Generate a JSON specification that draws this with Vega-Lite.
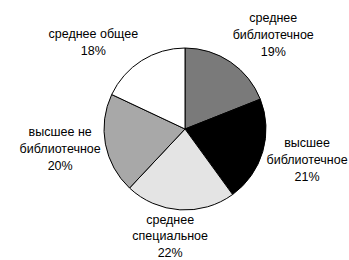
{
  "$schema": "https://vega.github.io/schema/vega-lite/v6.json",
  "width": 328,
  "height": 258,
  "autosize": {"type": "none"},
  "padding": {"left": 21, "right": 0, "top": 0, "bottom": 2},
  "background": "white",
  "view": {"stroke": null},
  "data": {
    "values": [
      {"order": 1, "category": "среднее библиотечное", "line1": "среднее", "line2": "библиотечное", "value": 19},
      {"order": 2, "category": "высшее библиотечное", "line1": "высшее", "line2": "библиотечное", "value": 21},
      {"order": 3, "category": "среднее специальное", "line1": "среднее", "line2": "специальное", "value": 22},
      {"order": 4, "category": "высшее не библиотечное", "line1": "высшее не", "line2": "библиотечное", "value": 20},
      {"order": 5, "category": "среднее общее", "line1": "среднее общее", "line2": "", "value": 18}
    ]
  },
  "transform": [
    {"calculate": "datum.line2 === '' ? [datum.line1, datum.value + '%'] : [datum.line1, datum.line2, datum.value + '%']", "as": "label"}
  ],
  "encoding": {
    "theta": {"field": "value", "type": "quantitative", "stack": true},
    "order": {"field": "order", "type": "quantitative"}
  },
  "layer": [
    {
      "mark": {"type": "arc", "outerRadius": 81, "stroke": "black", "strokeWidth": 1},
      "encoding": {
        "color": {
          "field": "category",
          "type": "nominal",
          "scale": {
            "domain": ["среднее библиотечное", "высшее библиотечное", "среднее специальное", "высшее не библиотечное", "среднее общее"],
            "range": ["#7a7a7a", "#000000", "#e4e4e4", "#a8a8a8", "#ffffff"]
          },
          "legend": null
        }
      }
    },
    {
      "mark": {"type": "text", "radius": 141, "dx": 9, "dy": 6, "font": "Liberation Sans", "fontSize": 12.5, "lineHeight": 17, "align": "center", "baseline": "middle", "color": "black"},
      "encoding": {"text": {"field": "label"}, "opacity": {"condition": {"test": "datum.order === 1", "value": 1}, "value": 0}}
    },
    {
      "mark": {"type": "text", "radius": 124, "dx": 3, "dy": -21, "font": "Liberation Sans", "fontSize": 12.5, "lineHeight": 17, "align": "center", "baseline": "middle", "color": "black"},
      "encoding": {"text": {"field": "label"}, "opacity": {"condition": {"test": "datum.order === 2", "value": 1}, "value": 0}}
    },
    {
      "mark": {"type": "text", "radius": 93, "dx": -9, "dy": -2, "font": "Liberation Sans", "fontSize": 12.5, "lineHeight": 16.5, "align": "center", "baseline": "middle", "color": "black"},
      "encoding": {"text": {"field": "label"}, "opacity": {"condition": {"test": "datum.order === 3", "value": 1}, "value": 0}}
    },
    {
      "mark": {"type": "text", "radius": 123, "dx": -4, "dy": -20, "font": "Liberation Sans", "fontSize": 12.5, "lineHeight": 17, "align": "center", "baseline": "middle", "color": "black"},
      "encoding": {"text": {"field": "label"}, "opacity": {"condition": {"test": "datum.order === 4", "value": 1}, "value": 0}}
    },
    {
      "mark": {"type": "text", "radius": 130, "dx": -22, "dy": 15, "font": "Liberation Sans", "fontSize": 12.5, "lineHeight": 17, "align": "center", "baseline": "middle", "color": "black"},
      "encoding": {"text": {"field": "label"}, "opacity": {"condition": {"test": "datum.order === 5", "value": 1}, "value": 0}}
    }
  ]
}
